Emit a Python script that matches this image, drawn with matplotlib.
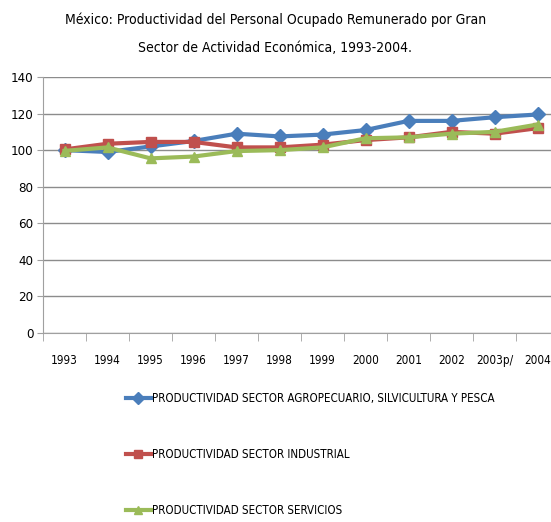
import matplotlib
matplotlib.use('Agg')
import matplotlib.pyplot as plt
from matplotlib.ticker import FixedLocator

plt.rcParams['font.family'] = ['DejaVu Sans']
plt.rcParams['font.stretch'] = 'condensed'

years = ['1993', '1994', '1995', '1996', '1997', '1998', '1999', '2000',
         '2001', '2002', '2003p/', '2004']
agro = [100, 99, 102, 105, 109, 107.5, 108.5, 111, 116, 116, 118, 119.5]
industrial = [100.4, 103.5, 104.5, 104.5, 101.5, 101.5, 103, 105.5, 107, 110, 109, 112]
servicios = [99.6, 101.5, 95.5, 96.5, 99.5, 100, 101.5, 106.5, 107, 109, 110, 114]

labels = ['PRODUCTIVIDAD SECTOR AGROPECUARIO, SILVICULTURA Y PESCA',
          'PRODUCTIVIDAD SECTOR INDUSTRIAL',
          'PRODUCTIVIDAD SECTOR SERVICIOS']
colors = ['#4A7EBB', '#C0504D', '#9BBB59']
markers = ['D', 's', '^']

fig = plt.figure(figsize=(5.51, 5.22), dpi=100)
ax = fig.add_axes([43 / 551, 0.362, 516 / 551, 0.4905])

x = list(range(len(years)))
for vals, lab, c, m in zip([agro, industrial, servicios], labels, colors, markers):
    ax.plot(x, vals, color=c, lw=3, marker=m, markersize=7.5, label=lab,
            markeredgecolor=c)

ax.set_ylim(0, 140)
ax.set_yticks(range(0, 141, 20))
ax.set_xlim(-0.5, len(years) - 0.5)
ax.set_xticks(x)
ax.set_xticklabels(years)
ax.xaxis.set_minor_locator(FixedLocator([i - 0.5 for i in range(len(years) + 1)]))
ax.tick_params(axis='x', which='major', length=0, pad=15, labelsize=8.5)
ax.tick_params(axis='x', which='minor', length=6, color='#A0A0A0')
ax.tick_params(axis='y', length=4, color='#A0A0A0', labelsize=9.5, pad=3)
ax.grid(axis='y', color='#8C8C8C', lw=1)
ax.set_axisbelow(True)
for s in ['top', 'right']:
    ax.spines[s].set_visible(False)
for s in ['left', 'bottom']:
    ax.spines[s].set_color('#A0A0A0')

fig.text(0.5, 0.962, 'México: Productividad del Personal Ocupado Remunerado por Gran',
         ha='center', va='center', fontsize=10)
fig.text(0.5, 0.908, 'Sector de Actividad Económica, 1993-2004.',
         ha='center', va='center', fontsize=10)

fig.legend(loc='upper left', bbox_to_anchor=(120 / 551, 1 - 386 / 522),
           frameon=False, fontsize=8.3, labelspacing=3.75, handlelength=2.2,
           handletextpad=0.1, borderpad=0, markerscale=0.75)

fig.savefig('out.png', dpi=100)
